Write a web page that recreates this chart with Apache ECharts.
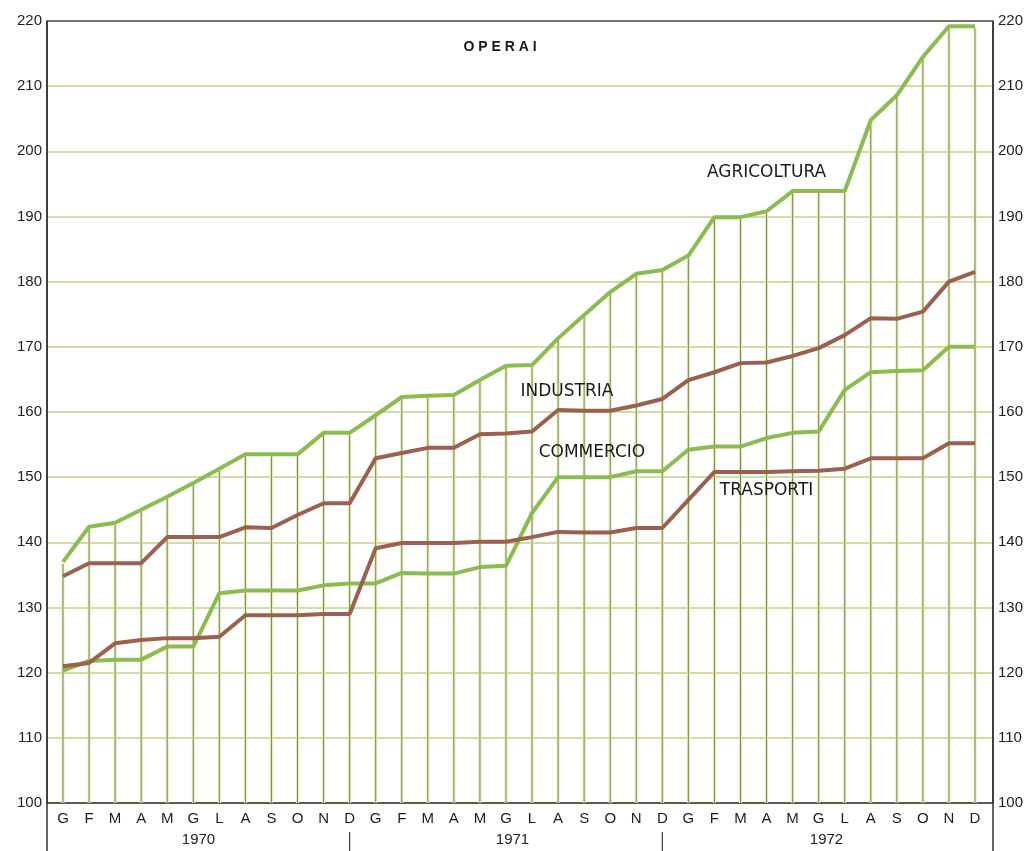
<!DOCTYPE html>
<html>
<head>
<meta charset="utf-8">
<script src="https://cdn.jsdelivr.net/npm/echarts@6/dist/echarts.min.js"></script>
<style>
html,body{margin:0;padding:0;background:#ffffff;}
#chart{width:1034px;height:851px;}
</style>
</head>
<body>
<div id="chart"></div>
<script>
const months = ['G','F','M','A','M','G','L','A','S','O','N','D'];
const years = ['1970','1971','1972'];
const yTicks = [100,110,120,130,140,150,160,170,180,190,200,210,220];

const agricoltura = [137,142.4,143,145,147,149.1,151.3,153.5,153.5,153.5,156.8,156.8,
  159.5,162.3,162.5,162.6,164.9,167.1,167.2,171.3,174.9,178.4,181.2,181.8,
  184,189.9,189.9,190.8,193.9,193.9,193.9,204.8,208.6,214.5,219.2,219.2];
const industria = [134.8,136.8,136.8,136.8,140.8,140.8,140.8,142.3,142.2,144.2,146,146,
  152.9,153.7,154.5,154.5,156.6,156.7,157,160.3,160.2,160.2,161,162,
  164.9,166.1,167.5,167.6,168.6,169.8,171.8,174.4,174.3,175.4,180,181.5];
const commercio = [120.3,121.8,122,122,124,124,132.2,132.6,132.6,132.6,133.4,133.7,
  133.7,135.3,135.2,135.2,136.2,136.4,144.5,150,150,150,150.9,150.9,
  154.2,154.7,154.7,156,156.8,157,163.4,166.1,166.3,166.4,170,170];
const trasporti = [121,121.5,124.5,125,125.3,125.3,125.5,128.8,128.8,128.8,129,129,
  139.1,139.9,139.9,139.9,140.1,140.1,140.8,141.6,141.5,141.5,142.2,142.2,
  146.5,150.8,150.8,150.8,150.9,151,151.3,152.9,152.9,152.9,155.2,155.2];

const seriesNames = ['AGRICOLTURA','INDUSTRIA','COMMERCIO','TRASPORTI'];
const GREEN = '#8cbb4e';
const BROWN = '#9c604f';
const nMonths = months.length * years.length;
const idx = Array.from({length: nMonths}, (_, i) => i);

const chart = echarts.init(document.getElementById('chart'), null, {renderer: 'canvas'});
const font = '"Liberation Sans", Arial, sans-serif';

const yAxisBase = {
  type: 'value', min: 100, max: 220, interval: 10,
  axisLine: {show: true, onZero: false, lineStyle: {color: '#333', width: 1.5}},
  axisTick: {show: false},
  axisLabel: {color: '#1e1e1e', fontSize: 15, fontFamily: font, margin: 5}
};

chart.setOption({
  animation: false,
  backgroundColor: '#ffffff',
  grid: {left: 47, right: 41, top: 21, bottom: 48, containLabel: false},
  xAxis: [{
    type: 'value', min: -0.614, max: 35.69,
    axisLine: {show: true, onZero: false, lineStyle: {color: '#333', width: 1.5}},
    axisTick: {show: false},
    splitLine: {show: false},
    axisLabel: {
      customValues: idx,
      formatter: v => months[Math.round(v) % 12],
      color: '#1e1e1e', fontSize: 15, fontFamily: font, margin: 8
    }
  }, {
    type: 'value', position: 'top', min: -0.614, max: 35.69,
    axisLine: {show: true, onZero: false, lineStyle: {color: '#555', width: 1.5}},
    axisTick: {show: false}, axisLabel: {show: false}, splitLine: {show: false}
  }],
  yAxis: [
    Object.assign({}, yAxisBase, {
      position: 'left',
      splitLine: {show: true, lineStyle: {color: '#c3cf80', width: 1.6}}
    }),
    Object.assign({}, yAxisBase, {position: 'right', splitLine: {show: false}})
  ],
  series: [
    {
      type: 'custom', name: 'verticali', z: 1, silent: true,
      data: agricoltura.map((v, i) => [i, v]),
      renderItem: (params, api) => {
        const x = api.value(0), v = api.value(1);
        const p1 = api.coord([x, 100]);
        const p2 = api.coord([x, v]);
        return {type: 'group', children: [
          {type: 'line', shape: {x1: p1[0], y1: p1[1], x2: p2[0], y2: p2[1] + 2},
            style: {stroke: '#e2eab8', lineWidth: 3}},
          {type: 'line', shape: {x1: p1[0], y1: p1[1], x2: p2[0], y2: p2[1] + 2},
            style: {stroke: '#7f8e4c', lineWidth: 1}}
        ]};
      }
    },
    {name: seriesNames[0], type: 'line', data: agricoltura.map((v, i) => [i, v]), symbol: 'none',
      lineStyle: {color: GREEN, width: 4}, z: 3},
    {name: seriesNames[1], type: 'line', data: industria.map((v, i) => [i, v]), symbol: 'none',
      lineStyle: {color: BROWN, width: 4}, z: 3},
    {name: seriesNames[2], type: 'line', data: commercio.map((v, i) => [i, v]), symbol: 'none',
      lineStyle: {color: GREEN, width: 4}, z: 3},
    {name: seriesNames[3], type: 'line', data: trasporti.map((v, i) => [i, v]), symbol: 'none',
      lineStyle: {color: BROWN, width: 4}, z: 3}
  ]
});

// annotations placed in data coordinates
function px(x, y) { return chart.convertToPixel({xAxisIndex: 0, yAxisIndex: 0}, [x, y]); }
const textStyleLbl = {fill: '#1a1a1a', font: '17px "DejaVu Sans", sans-serif', textAlign: 'center', textVerticalAlign: 'middle'};
const labelPos = [[27.0, 196.7], [19.34, 163.1], [20.3, 153.7], [27.0, 148.0]];
const graphics = [];
seriesNames.forEach((n, i) => {
  const p = px(labelPos[i][0], labelPos[i][1]);
  graphics.push({type: 'text', x: p[0], y: p[1], z: 10, style: Object.assign({text: n}, textStyleLbl)});
});
const pt = px(16.77, 216.0);
graphics.push({type: 'text', x: pt[0], y: pt[1], z: 10,
  style: {text: 'O P E R A I', fill: '#1a1a1a', font: 'bold 14px "Liberation Sans", Arial, sans-serif', textAlign: 'center', textVerticalAlign: 'middle'}});

// frame extensions below the axis and year separators
const bottomY = 851;
const leftX = px(-0.614, 100)[0], rightX = px(35.69, 100)[0];
const topY = px(0, 220)[1];
graphics.push({type: 'line', shape: {x1: leftX, y1: topY, x2: leftX, y2: bottomY}, style: {stroke: '#333', lineWidth: 1.5}});
graphics.push({type: 'line', shape: {x1: rightX, y1: topY, x2: rightX, y2: bottomY}, style: {stroke: '#333', lineWidth: 1.5}});
[11, 23].forEach(i => {
  const x = px(i, 100)[0];
  graphics.push({type: 'line', shape: {x1: x, y1: 832, x2: x, y2: bottomY}, style: {stroke: '#333', lineWidth: 1.2}});
});
const yearCenters = [5.2, 17.25, 29.3];
years.forEach((y, i) => {
  const x = px(yearCenters[i], 100)[0];
  graphics.push({type: 'text', x: x, y: 840, style: {text: y, fill: '#222', font: '15px "Liberation Sans", Arial, sans-serif', textAlign: 'center', textVerticalAlign: 'middle'}});
});
chart.setOption({graphic: graphics});
</script>
</body>
</html>
